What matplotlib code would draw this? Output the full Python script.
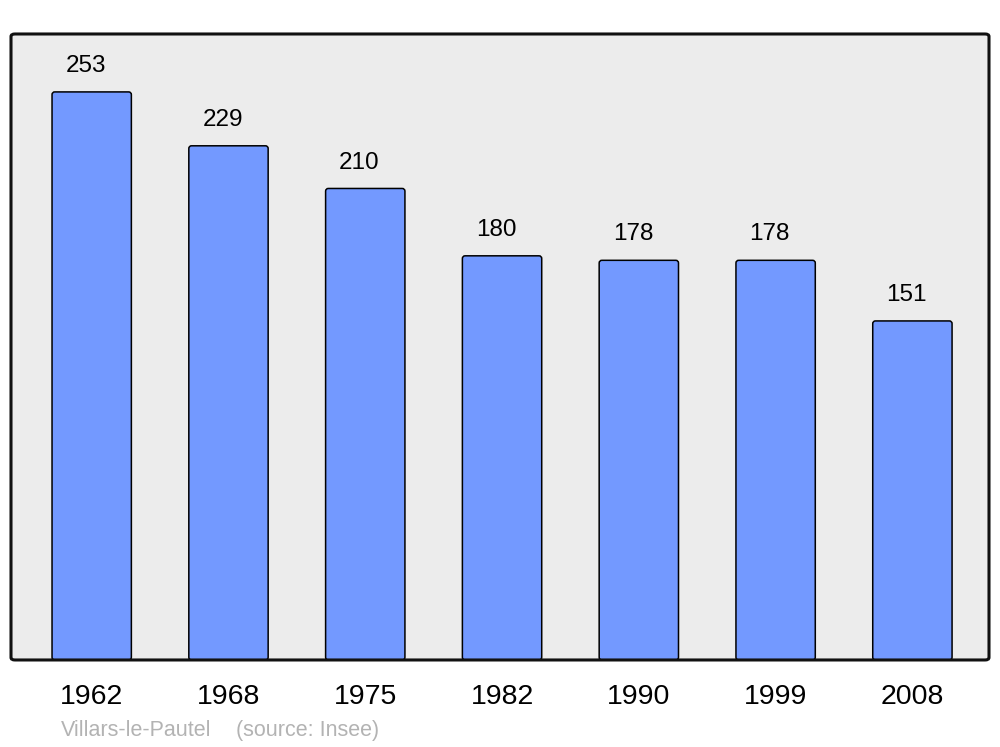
import matplotlib.pyplot as plt
from matplotlib.patches import FancyBboxPatch

# population data
years = ['1962', '1968', '1975', '1982', '1990', '1999', '2008']
population = [253, 229, 210, 180, 178, 178, 151]

plt.rcParams['font.family'] = ['Liberation Sans', 'DejaVu Sans']

fig = plt.figure(figsize=(10, 7.47), dpi=100)
ax = fig.add_axes([0.011, 0.1165, 0.978, 0.838])
ax.set_facecolor('#ececec')

x = range(len(years))
bars = ax.bar(x, population, width=0.58, color='#7399ff', edgecolor='black',
              linewidth=1.1, zorder=2)

# rounded bar corners: swap each rectangle for a rounded box of the same geometry
for b in bars:
    b.set_visible(False)
    rb = FancyBboxPatch((b.get_x(), b.get_y()), b.get_width(), b.get_height(),
                        boxstyle='round,pad=0,rounding_size=0.02',
                        mutation_aspect=137 / 2.245,
                        facecolor='#7399ff', edgecolor='black', linewidth=1.1, zorder=2)
    ax.add_patch(rb)

for i, v in enumerate(population):
    ax.annotate(str(v), (i, v), xytext=(-4.3, 18.6), textcoords='offset points',
                ha='center', va='center', fontsize=17.5)

ax.set_xlim(-0.59, 6.56)
ax.set_ylim(0, 278.8)
ax.set_xticks(list(x))
ax.set_xticklabels(years, fontsize=20.5)
ax.tick_params(axis='x', length=0, pad=17)
ax.set_yticks([])

for s in ax.spines.values():
    s.set_visible(False)

frame = FancyBboxPatch((0, 0), 1, 1, boxstyle='round,pad=0,rounding_size=0.004',
                       transform=ax.transAxes, fill=False, edgecolor='#111111',
                       linewidth=2.2, clip_on=False, zorder=5)
ax.add_patch(frame)

fig.text(0.061, 0.0225, 'Villars-le-Pautel', color='#b3b3b3', fontsize=15.5,
         ha='left', va='center')
fig.text(0.236, 0.0225, '(source: Insee)', color='#b3b3b3', fontsize=15.5,
         ha='left', va='center')

fig.savefig('out.png', dpi=100, facecolor='white')
